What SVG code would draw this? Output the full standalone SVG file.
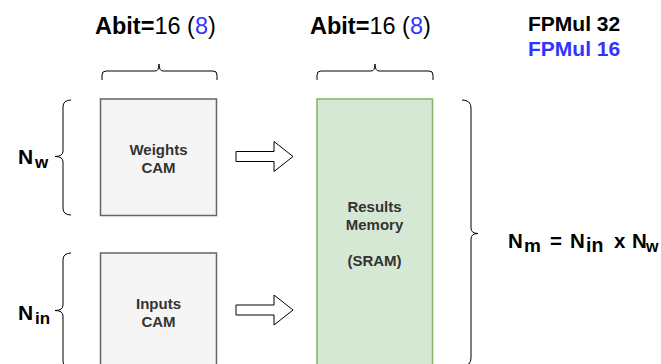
<svg xmlns="http://www.w3.org/2000/svg" width="661" height="364" viewBox="0 0 661 364">
<style>
text{font-family:"Liberation Sans",Arial,sans-serif;}
.b{font-weight:bold;}
.blue{fill:#3333ff;}
.cam{fill:#f5f5f5;stroke:#666666;stroke-width:1.5;}
.mem{fill:#d5e8d4;stroke:#82b366;stroke-width:1.5;}
.lbl{font-size:15px;font-weight:bold;fill:#333333;text-anchor:middle;}
.brace{fill:none;stroke:#000;stroke-width:1;}
.arr{fill:#ffffff;stroke:#000;stroke-width:1;}
</style>
<rect width="661" height="364" fill="#ffffff"/>
<g id="abit1">
<text x="95" y="33.5" font-size="23.5"><tspan class="b">Abit=</tspan>16 (<tspan class="blue">8</tspan>)</text>
</g>
<g id="abit2">
<text x="310" y="33.5" font-size="23.5"><tspan class="b">Abit=</tspan>16 (<tspan class="blue">8</tspan>)</text>
</g>
<g id="legend">
<text x="528" y="30.5" font-size="21" class="b">FPMul 32</text>
<text x="528" y="56" font-size="21" class="b blue">FPMul 16</text>
</g>
<g id="brace-top1"><path class="brace" d="M102,80 L102,75 Q102,71 106,71 L155,71 Q159,71 159,64 Q159,71 163,71 L213,71 Q217,71 217,75 L217,80"/></g>
<g id="brace-top2"><path class="brace" d="M317,80 L317,75 Q317,71 321,71 L371,71 Q375,71 375,64 Q375,71 379,71 L429,71 Q433,71 433,75 L433,80"/></g>
<g id="brace-nw"><path class="brace" d="M71,100 Q63,100 63,107 L63,151 Q63,156.5 55,156.5 Q63,156.5 63,162 L63,208 Q63,215 71,215"/></g>
<g id="brace-nin"><path class="brace" d="M71,253 Q63,253 63,260 L63,305 Q63,310.5 55,310.5 Q63,310.5 63,316 L63,361 Q63,368 71,368"/></g>
<g id="brace-nm"><path class="brace" d="M462,100 Q471,100 471,108 L471,228 Q471,233.5 478,233.5 Q471,233.5 471,239 L471,358 Q471,366 462,366"/></g>
<g id="label-nw">
<text class="b"><tspan x="18" y="163.5" font-size="21">N</tspan><tspan x="35" y="168" font-size="17">w</tspan></text>
</g>
<g id="label-nin">
<text class="b"><tspan x="18" y="320" font-size="21">N</tspan><tspan x="35" y="324" font-size="17">in</tspan></text>
</g>
<g id="label-nm">
<text class="b"><tspan x="508" y="247.5" font-size="20.5">N</tspan><tspan x="524" y="251.5" font-size="19">m</tspan><tspan x="550" y="247.5" font-size="20.5">=</tspan><tspan x="570" y="247.5" font-size="20.5">N</tspan><tspan x="586" y="251.5" font-size="19.5">in</tspan><tspan x="614" y="247.5" font-size="20.5">x</tspan><tspan x="632" y="247.5" font-size="20.5">N</tspan><tspan x="646" y="251.5" font-size="16">w</tspan></text>
</g>
<g id="weights-cam">
<rect class="cam" x="100.5" y="99" width="116" height="116.5"/>
<text class="lbl" x="158.5" y="154.5">Weights</text>
<text class="lbl" x="158.5" y="172.5">CAM</text>
</g>
<g id="inputs-cam">
<rect class="cam" x="100.5" y="253" width="116" height="120"/>
<text class="lbl" x="158.5" y="308.5">Inputs</text>
<text class="lbl" x="158.5" y="326.5">CAM</text>
</g>
<g id="results-memory">
<rect class="mem" x="317" y="99" width="115.5" height="275"/>
<text class="lbl" x="374.5" y="212">Results</text>
<text class="lbl" x="374.5" y="230">Memory</text>
<text class="lbl" x="374.5" y="266">(SRAM)</text>
</g>
<g id="connectors">
<path class="arr" d="M236,151.5 L274,151.5 L274,141.5 L293,156.5 L274,171.5 L274,161.5 L236,161.5 Z"/>
<path class="arr" d="M236,305 L274,305 L274,295 L293,310 L274,325 L274,315 L236,315 Z"/>
</g>
</svg>
